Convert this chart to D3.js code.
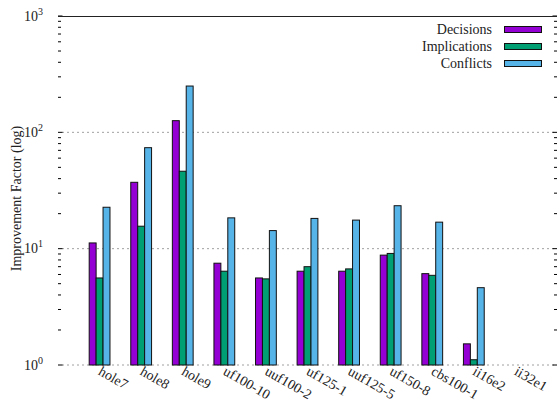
<!DOCTYPE html>
<html>
<head>
<meta charset="utf-8">
<script src="https://cdn.jsdelivr.net/npm/d3@7"></script>
<style>
  body { margin: 0; background: #fff; }
  text { font-family: "Liberation Serif", "Times New Roman", serif; }
</style>
</head>
<body>
<svg id="chart" width="557" height="403"></svg>
<script>
// benchmarks along x
const instances = ["hole7", "hole8", "hole9", "uf100-10", "uuf100-2", "uf125-1",
                   "uuf125-5", "uf150-8", "cbs100-1", "ii16e2", "ii32e1"];
const seriesNames = ["Decisions", "Implications", "Conflicts"];
const seriesColors = ["#9400d3", "#009e73", "#56b4e9"];

// improvement factors (null = no bar)
const decisions    = [11.2, 37.2, 126, 7.5, 5.6, 6.4, 6.4, 8.8, 6.1, 1.52, null];
const implications = [5.6, 15.6, 46.3, 6.4, 5.5, 7.0, 6.7, 9.1, 5.9, 1.11, null];
const conflicts    = [22.7, 73.8, 250, 18.4, 14.3, 18.2, 17.6, 23.4, 16.9, 4.62, null];

const yTicks = [1, 10, 100, 1000];
const yTickExp = ["0", "1", "2", "3"];

const svg = d3.select("#chart");
const margin = {top: 16, right: 0, bottom: 38, left: 58};
const width = +svg.attr("width") - margin.left - margin.right,
      height = +svg.attr("height") - margin.top - margin.bottom;
const g = svg.append("g").attr("transform", "translate(" + margin.left + "," + margin.top + ")");

const x = d3.scaleLinear().domain([-1, instances.length]).range([0, width]);
const y = d3.scaleLog().domain([1, 1000]).range([height, 0]);
const slot = x(1) - x(0);
const bw = slot * 0.5 / 3;

// grid
g.selectAll(".grid").data(yTicks.slice(0, 3)).enter().append("line")
    .attr("x1", 4).attr("x2", width)
    .attr("y1", d => y(d)).attr("y2", d => y(d))
    .attr("stroke", "#a0a0a0").attr("stroke-width", 1)
    .attr("stroke-dasharray", "2,3");

// minor + major ticks, left and right
const minor = [];
[1, 10, 100].forEach(b => { for (let k = 2; k <= 9; k++) minor.push(b * k); });
function ticks(vals, len) {
  g.selectAll(null).data(vals).enter().append("line")
      .attr("x1", 0).attr("x2", len)
      .attr("y1", d => y(d)).attr("y2", d => y(d))
      .attr("stroke", "#000").attr("stroke-width", 1);
  g.selectAll(null).data(vals).enter().append("line")
      .attr("x1", width).attr("x2", width - len)
      .attr("y1", d => y(d)).attr("y2", d => y(d))
      .attr("stroke", "#000").attr("stroke-width", 1);
}
ticks(minor, 3);
ticks(yTicks, 4.5);

// top border
g.append("line")
    .attr("x1", 0).attr("x2", width).attr("y1", 0.5).attr("y2", 0.5)
    .attr("stroke", "#222").attr("stroke-width", 1);

// y tick labels 10^n
const yl = g.selectAll(".ylab").data(yTicks).enter().append("text")
    .attr("x", -15).attr("y", d => y(d) + 4.5)
    .attr("text-anchor", "end").attr("font-size", 14).attr("fill", "#222");
yl.append("tspan").text("10");
yl.append("tspan").attr("dy", -6).attr("font-size", 10).text((d, i) => yTickExp[i]);

// y label
svg.append("text")
    .attr("transform", "translate(21," + (margin.top + height / 2 + 8) + ") rotate(-90)")
    .attr("text-anchor", "middle").attr("font-size", 14).attr("fill", "#222")
    .text("Improvement Factor (log)");

// bars
const seriesData = [decisions, implications, conflicts];
seriesData.forEach((vals, s) => {
  g.selectAll(null).data(vals.map((v, i) => ({v, i})).filter(d => d.v != null))
    .enter().append("rect")
      .attr("x", d => x(d.i) - 1.5 * bw + s * bw)
      .attr("y", d => y(d.v))
      .attr("width", bw)
      .attr("height", d => y(1) - y(d.v))
      .attr("fill", seriesColors[s])
      .attr("stroke", "#111").attr("stroke-width", 1);
});

// x labels (rotated, hang below the baseline)
g.selectAll(".xlab").data(instances).enter().append("text")
    .attr("transform", (d, i) => "translate(" + (x(i) - 2) + "," + (height + 9) + ") rotate(30)")
    .attr("font-size", 14).attr("fill", "#222")
    .text(d => d);

// legend
const leg = svg.append("g");
seriesNames.forEach((name, s) => {
  const cy = 29.5 + s * 17;
  leg.append("text")
      .attr("x", 492).attr("y", cy + 4.5)
      .attr("text-anchor", "end").attr("font-size", 14).attr("fill", "#222")
      .text(name);
  leg.append("rect")
      .attr("x", 504.5).attr("y", cy - 3).attr("width", 37).attr("height", 6)
      .attr("fill", seriesColors[s]).attr("stroke", "#111").attr("stroke-width", 1);
});
</script>
</body>
</html>
